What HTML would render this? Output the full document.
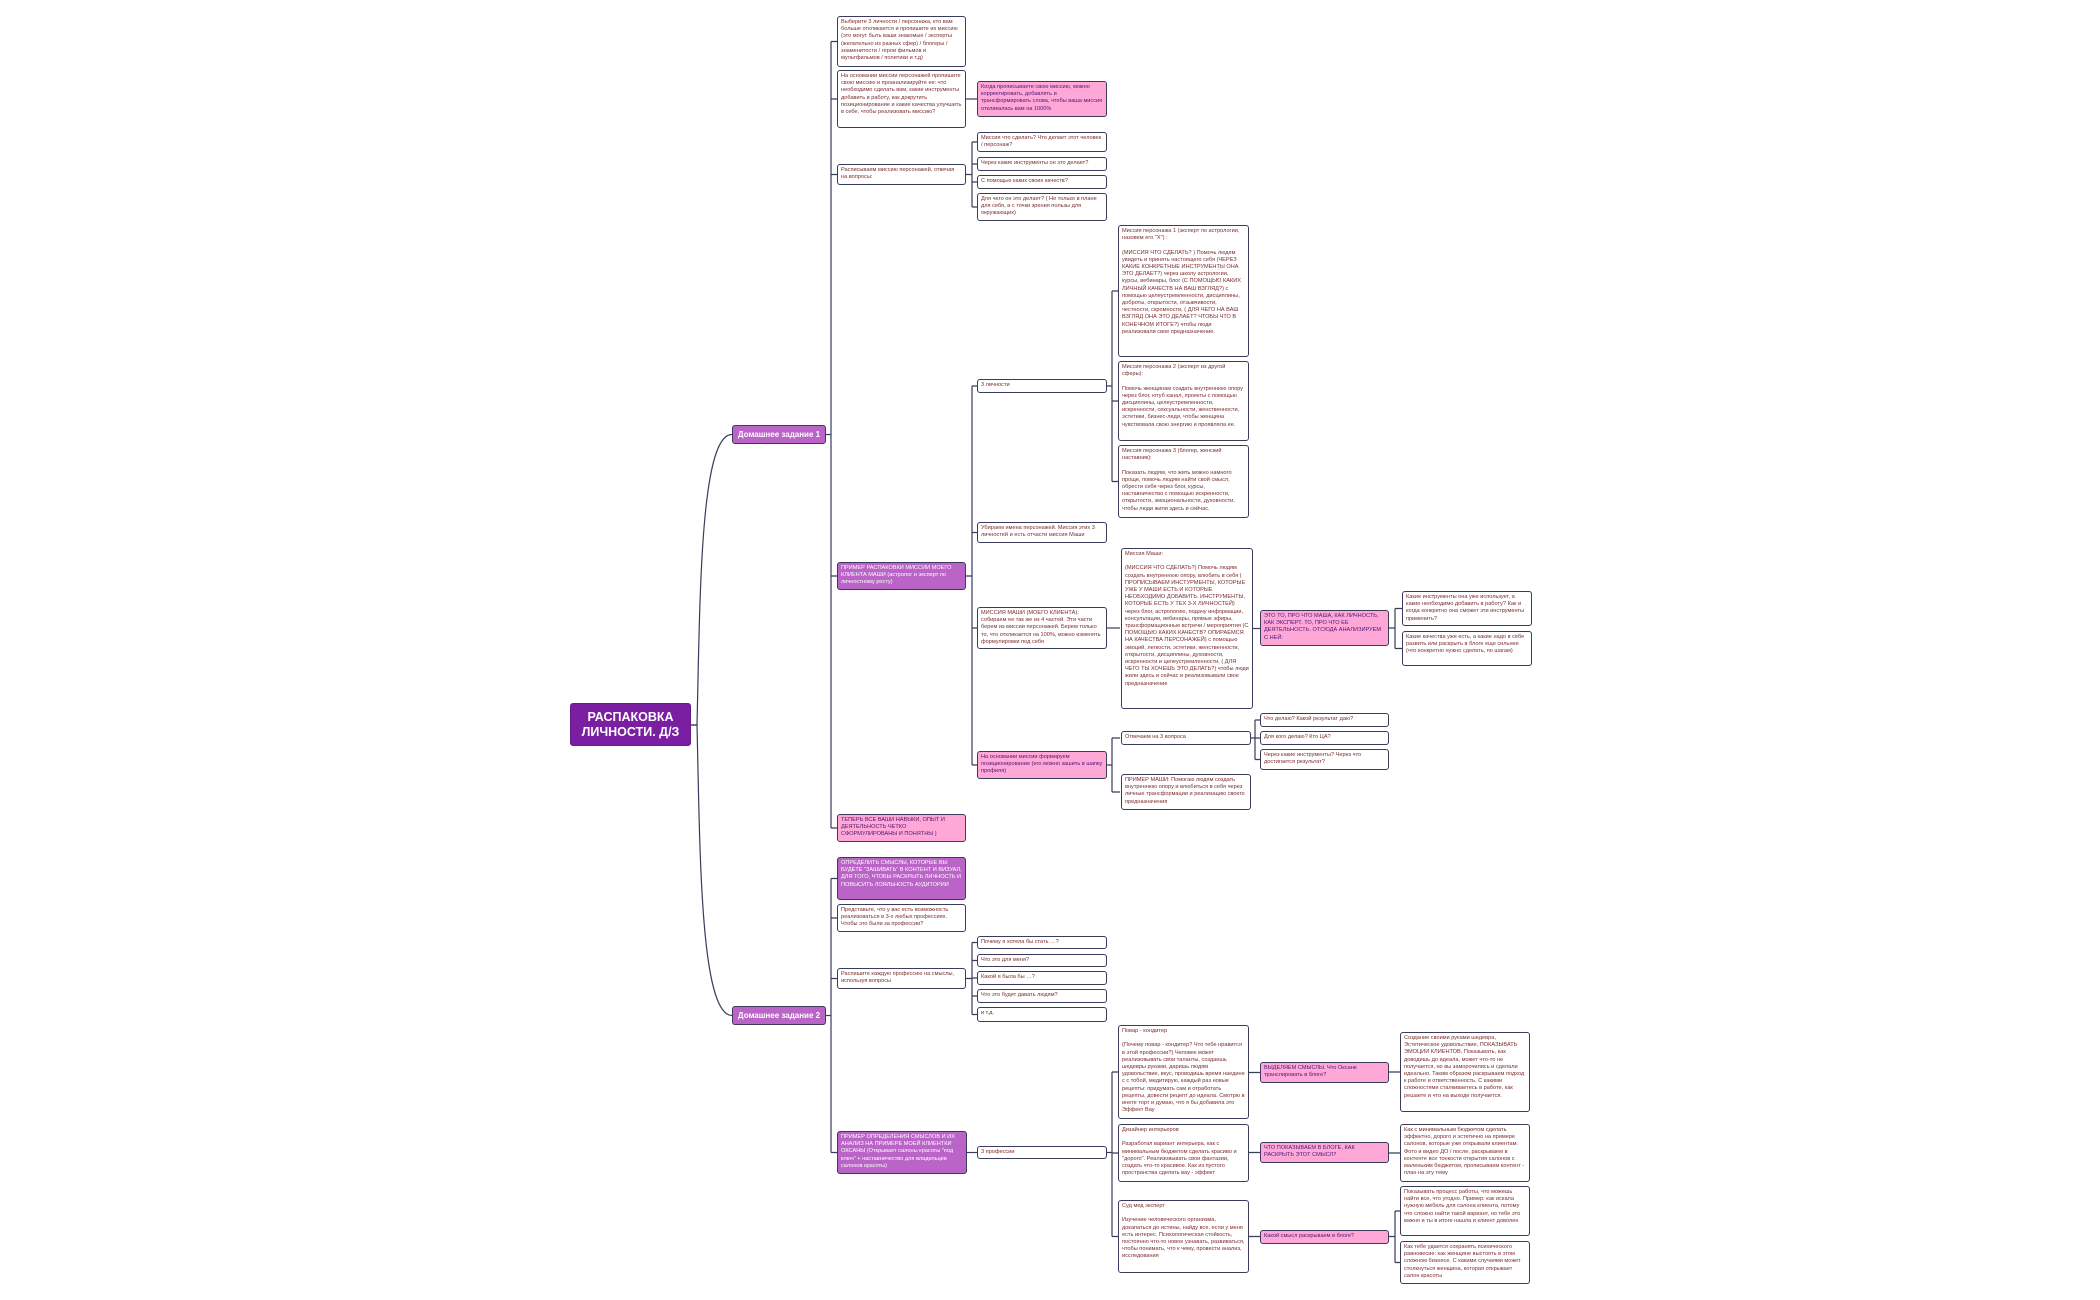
<!DOCTYPE html>
<html><head><meta charset="utf-8">
<style>
html,body{margin:0;padding:0;background:#fff;}
body{width:2100px;height:1300px;position:relative;overflow:hidden;font-family:"Liberation Sans",sans-serif;}
svg{position:absolute;left:0;top:0;}
.b{position:absolute;box-sizing:border-box;border:1.2px solid #3b3b5c;border-radius:3px;background:#fff;color:#7a2c2c;font-size:5.6px;line-height:7.2px;padding:2px 3px;overflow:hidden;white-space:pre-line;}
.p{background:#ffa8d8;color:#4a1670;}
.v{background:#b964c6;color:#fff;}
.dz{font-size:8px;font-weight:bold;text-align:center;display:flex;align-items:center;justify-content:center;}
.root{background:#7b1fa2;color:#fff;font-size:12.5px;line-height:15px;font-weight:bold;text-align:center;display:flex;align-items:center;justify-content:center;border-color:#6a1a8a;}
</style></head><body>
<svg width="2100" height="1300" fill="none" stroke="#3b3b5c" stroke-width="1.2">
<path d="M682,725 L697,725 C700,600 700,434 732,434.5"/>
<path d="M682,725 L697,725 C700,850 700,1015 732,1015.5"/>
<!-- ДЗ1 -->
<path d="M826,434.5 H831 M831,41.5 V828 M831,41.5 H837 M831,99 H837 M831,174.5 H837 M831,576 H837 M831,828 H837"/>
<!-- ДЗ2 -->
<path d="M826,1015.5 H831 M831,878.5 V1152.5 M831,878.5 H837 M831,918 H837 M831,978.5 H837 M831,1152.5 H837"/>
<path d="M966,99 H977"/>
<path d="M966,174.5 H972 M972,142 V207 M972,142 H977 M972,164 H977 M972,182 H977 M972,207 H977"/>
<path d="M966,576 H972 M972,386 V765 M972,386 H977 M972,532.5 H977 M972,628 H977 M972,765 H977"/>
<path d="M966,978.5 H972 M972,942.5 V1014.5 M972,942.5 H977 M972,960.5 H977 M972,978 H977 M972,996 H977 M972,1014.5 H977"/>
<path d="M967,1152.5 H977"/>
<path d="M1107,386 H1112 M1112,291 V481.5 M1112,291 H1118 M1112,401 H1118 M1112,481.5 H1118"/>
<path d="M1107,628 H1120"/>
<path d="M1107,765 H1112 M1112,738 V792 M1112,738 H1120 M1112,792 H1120"/>
<path d="M1107,1152.5 H1112 M1112,1072 V1236.5 M1112,1072 H1118 M1112,1153 H1118 M1112,1236.5 H1118"/>
<path d="M1253,628.5 H1260"/>
<path d="M1251,738 H1255 M1255,720 V759.5 M1255,720 H1260 M1255,738 H1260 M1255,759.5 H1260"/>
<path d="M1249,1072.5 H1260 M1249,1152.5 H1260 M1249,1236.5 H1260"/>
<path d="M1389,628 H1395 M1395,608.5 V648.5 M1395,608.5 H1402 M1395,648.5 H1402"/>
<path d="M1389,1072 H1400 M1389,1153 H1400"/>
<path d="M1389,1236.5 H1395 M1395,1211 V1262.5 M1395,1211 H1400 M1395,1262.5 H1400"/>
</svg>

<div class="b root" style="left:570px;top:703px;width:121px;height:43px;">РАСПАКОВКА<br>ЛИЧНОСТИ. Д/З</div>
<div class="b v dz" style="left:732px;top:425px;width:94px;height:19px;">Домашнее задание 1</div>
<div class="b v dz" style="left:732px;top:1006px;width:94px;height:19px;">Домашнее задание 2</div>

<div class="b" style="left:837px;top:16px;width:129px;height:51px;">Выберите 3 личности / персонажа, кто вам больше откликается и пропишите их миссию (это могут быть ваши знакомые / эксперты (желательно из разных сфер) / блогеры / знаменитости / герои фильмов и мультфильмов / политики и т.д)</div>
<div class="b" style="left:837px;top:70px;width:129px;height:58px;">На основании миссии персонажей пропишите свою миссию и проанализируйте ее: что необходимо сделать вам, какие инструменты добавить в работу, как докрутить позиционирование и какие качества улучшить в себе, чтобы реализовать миссию?</div>
<div class="b" style="left:837px;top:164px;width:129px;height:21px;">Расписываем миссию персонажей, отвечая на вопросы:</div>
<div class="b v" style="left:837px;top:562px;width:129px;height:28px;">ПРИМЕР РАСПАКОВКИ МИССИИ МОЕГО КЛИЕНТА МАШИ (астролог и эксперт по личностному росту)</div>
<div class="b p" style="left:837px;top:814px;width:129px;height:28px;">ТЕПЕРЬ ВСЕ ВАШИ НАВЫКИ, ОПЫТ И ДЕЯТЕЛЬНОСТЬ ЧЕТКО СФОРМУЛИРОВАНЫ И ПОНЯТНЫ )</div>
<div class="b v" style="left:837px;top:857px;width:129px;height:43px;">ОПРЕДЕЛИТЬ СМЫСЛЫ, КОТОРЫЕ ВЫ БУДЕТЕ "ЗАШИВАТЬ" В КОНТЕНТ И ВИЗУАЛ, ДЛЯ ТОГО, ЧТОБЫ РАСКРЫТЬ ЛИЧНОСТЬ И ПОВЫСИТЬ ЛОЯЛЬНОСТЬ АУДИТОРИИ</div>
<div class="b" style="left:837px;top:904px;width:129px;height:28px;">Представьте, что у вас есть возможность реализоваться в 3-х любых профессиях. Чтобы это были за профессии?</div>
<div class="b" style="left:837px;top:968px;width:129px;height:21px;">Распишите каждую профессию на смыслы, используя вопросы</div>
<div class="b v" style="left:837px;top:1131px;width:130px;height:43px;">ПРИМЕР ОПРЕДЕЛЕНИЯ СМЫСЛОВ И ИХ АНАЛИЗ НА ПРИМЕРЕ МОЕЙ КЛИЕНТКИ ОКСАНЫ (Открывает салоны красоты "под ключ" + наставничество для владельцев салонов красоты)</div>

<div class="b p" style="left:977px;top:81px;width:130px;height:36px;">Когда прописываете свою миссию, можно корректировать, добавлять и трансформировать слова, чтобы ваша миссия откликалась вам на 1000%</div>
<div class="b" style="left:977px;top:132px;width:130px;height:20px;">Миссия что сделать?  Что делает этот человек / персонаж?</div>
<div class="b" style="left:977px;top:157px;width:130px;height:14px;">Через какие инструменты он это делает?</div>
<div class="b" style="left:977px;top:175px;width:130px;height:14px;">С помощью каких своих качеств?</div>
<div class="b" style="left:977px;top:193px;width:130px;height:28px;">Для чего он это делает? ( Не только в плане для себя, а с точки зрения пользы для окружающих)</div>
<div class="b" style="left:977px;top:379px;width:130px;height:14px;">3 личности</div>
<div class="b" style="left:977px;top:522px;width:130px;height:21px;">Убираем имена персонажей. Миссия этих 3 личностей и есть отчасти миссия Маши</div>
<div class="b" style="left:977px;top:607px;width:130px;height:42px;">МИССИЯ МАШИ (МОЕГО КЛИЕНТА): собираем ее так же из 4 частей. Эти части берем из миссии персонажей. Берем только то, что откликается на 100%, можно изменять формулировки под себя</div>
<div class="b p" style="left:977px;top:751px;width:130px;height:28px;">На основании миссии формируем позиционирование (его можно зашить в шапку профиля)</div>
<div class="b" style="left:977px;top:936px;width:130px;height:13px;">Почему я хотела бы стать …?</div>
<div class="b" style="left:977px;top:954px;width:130px;height:13px;">Что это для меня?</div>
<div class="b" style="left:977px;top:971px;width:130px;height:14px;">Какой я была бы …?</div>
<div class="b" style="left:977px;top:989px;width:130px;height:14px;">Что это будет давать людям?</div>
<div class="b" style="left:977px;top:1007px;width:130px;height:15px;">и т.д.</div>
<div class="b" style="left:977px;top:1146px;width:130px;height:13px;">3 профессии</div>

<div class="b" style="left:1118px;top:225px;width:131px;height:132px;">Миссия персонажа 1 (эксперт по астрологии, назовем его "Х") :

(МИССИЯ ЧТО СДЕЛАТЬ? ) Помочь людям увидеть и принять настоящего себя (ЧЕРЕЗ КАКИЕ КОНКРЕТНЫЕ ИНСТРУМЕНТЫ ОНА ЭТО ДЕЛАЕТ?) через школу астрологии, курсы, вебинары, блог (С ПОМОЩЬЮ КАКИХ ЛИЧНЫЙ КАЧЕСТВ НА ВАШ ВЗГЛЯД?) с помощью целеустремленности, дисциплины, доброты, открытости, отзывчивости, честности, скромности, ( ДЛЯ ЧЕГО НА ВАШ ВЗГЛЯД ОНА ЭТО ДЕЛАЕТ? ЧТОБЫ ЧТО В КОНЕЧНОМ ИТОГЕ?) чтобы люди реализовали свое предназначение.</div>
<div class="b" style="left:1118px;top:361px;width:131px;height:80px;">Миссия персонажа 2 (эксперт из другой сферы):

Помочь женщинам создать внутреннюю опору через блог, ютуб канал, проекты с помощью дисциплины, целеустремленности, искренности, сексуальности, женственности, эстетики, бизнес-леди, чтобы женщина чувствовала свою энергию и проявляла ее.</div>
<div class="b" style="left:1118px;top:445px;width:131px;height:73px;">Миссия персонажа 3 (блогер, женский наставник):

Показать людям, что жить можно намного проще, помочь людям найти свой смысл, обрести себя через блог, курсы, наставничество с помощью искренности, открытости, эмоциональности, духовности, чтобы люди жили здесь и сейчас.</div>
<div class="b" style="left:1121px;top:548px;width:132px;height:161px;">Миссия Маши:

(МИССИЯ ЧТО СДЕЛАТЬ?) Помочь людям создать внутреннюю опору, влюбить в себя ( ПРОПИСЫВАЕМ ИНСТУРМЕНТЫ, КОТОРЫЕ УЖЕ У МАШИ ЕСТЬ И КОТОРЫЕ НЕОБХОДИМО ДОБАВИТЬ. ИНСТРУМЕНТЫ, КОТОРЫЕ ЕСТЬ У ТЕХ 3-Х ЛИЧНОСТЕЙ) через блог, астрологию, подачу информации, консультации, вебинары, прямые эфиры, трансформационные встречи / мероприятия (С ПОМОЩЬЮ КАКИХ КАЧЕСТВ? ОПИРАЕМСЯ НА КАЧЕСТВА ПЕРСОНАЖЕЙ) с помощью эмоций, легкости, эстетики, женственности, открытости, дисциплины, духовности, искренности и целеустремленности, ( ДЛЯ ЧЕГО ТЫ ХОЧЕШЬ ЭТО ДЕЛАТЬ?) чтобы люди жили здесь и сейчас и реализовывали свое предназначение</div>
<div class="b" style="left:1121px;top:731px;width:130px;height:14px;">Отвечаем на 3 вопроса</div>
<div class="b" style="left:1121px;top:774px;width:130px;height:36px;">ПРИМЕР МАШИ: Помогаю людям создать внутреннюю опору и влюбиться в себя через личные трансформации и реализацию своего предназначения</div>
<div class="b" style="left:1118px;top:1025px;width:131px;height:94px;">Повар - кондитер

(Почему повар - кондитер? Что тебе нравится в этой профессии?) Человек может реализовывать свои таланты, создаешь шедевры руками, даришь людям удовольствие, вкус, проводишь время наедине с с тобой, медитирую, каждый раз новые рецепты: придумать сам и отработать рецепты, довести рецепт до идеала. Смотрю в инете торт и думаю, что я бы добавила это Эффект Вау</div>
<div class="b" style="left:1118px;top:1124px;width:131px;height:58px;">Дизайнер интерьеров

Разработал вариант интерьера, как с минимальным бюджетом сделать красиво и "дорого". Реализовывать свои фантазии, создать что-то красивое. Как из пустого пространства сделать вау - эффект</div>
<div class="b" style="left:1118px;top:1200px;width:131px;height:73px;">Суд мед эксперт

Изучение человеческого организма, докапаться  до истины, найду все, если у меня есть интерес.  Психологическая стойкость, постоянно что-то новое узнавать, развиваться, чтобы понимать, что к чему, провести анализ, исследования</div>

<div class="b p" style="left:1260px;top:610px;width:129px;height:36px;">ЭТО ТО, ПРО ЧТО МАША, КАК ЛИЧНОСТЬ, КАК ЭКСПЕРТ. ТО, ПРО ЧТО ЕЕ ДЕЯТЕЛЬНОСТЬ. ОТСЮДА АНАЛИЗИРУЕМ С НЕЙ:</div>
<div class="b" style="left:1260px;top:713px;width:129px;height:14px;">Что делаю? Какой результат даю?</div>
<div class="b" style="left:1260px;top:731px;width:129px;height:14px;">Для кого делаю? Кто ЦА?</div>
<div class="b" style="left:1260px;top:749px;width:129px;height:21px;">Через какие инструменты? Через что достигается результат?</div>
<div class="b p" style="left:1260px;top:1062px;width:129px;height:21px;">ВЫДЕЛЯЕМ СМЫСЛЫ. Что Оксане транслировать в блоге?</div>
<div class="b p" style="left:1260px;top:1142px;width:129px;height:21px;">ЧТО ПОКАЗЫВАЕМ В БЛОГЕ, КАК РАСКРЫТЬ ЭТОТ СМЫСЛ?</div>
<div class="b p" style="left:1260px;top:1230px;width:129px;height:14px;">Какой смысл раскрываем в блоге?</div>

<div class="b" style="left:1402px;top:591px;width:130px;height:35px;">Какие инструменты она уже использует, а какие необходимо добавить в работу? Как и когда конкретно она сможет эти инструменты применить?</div>
<div class="b" style="left:1402px;top:631px;width:130px;height:35px;">Какие качества уже есть, а какие надо в себе развить или раскрыть в блоге еще сильнее (что конкретно нужно сделать, по шагам)</div>
<div class="b" style="left:1400px;top:1032px;width:130px;height:80px;">Создание своими руками шедевра, Эстетическое удовольствие, ПОКАЗЫВАТЬ ЭМОЦИИ КЛИЕНТОВ, Показывать, как доводишь до идеала, может что-то не получается, но вы заморочились и сделали идеально. Таким образом раскрываем подход к работе и ответственность. С какими сложностями сталкиваетесь в работе, как решаете и что на выходе получается.</div>
<div class="b" style="left:1400px;top:1124px;width:130px;height:58px;">Как с минимальным бюджетом сделать эффектно, дорого и эстетично на примере салонов, которые уже открывали клиентам. Фото и видео ДО / после, раскрываем в контенте все тонкости открытия салонов с маленьким бюджетом, прописываем контент - план на эту тему</div>
<div class="b" style="left:1400px;top:1186px;width:130px;height:50px;">Показывать процесс работы, что можешь найти все, что угодно. Пример: как искала нужную мебель для салона клиента, потому что сложно найти такой вариант, но тебе это важно и ты в итоге нашла и клиент доволен</div>
<div class="b" style="left:1400px;top:1241px;width:130px;height:43px;">Как тебе удается сохранять психического равновесие: как женщине выстоять в этом сложном бизнесе. С какими случаями может столкнуться женщина, которая открывает салон красоты</div>
</body></html>
